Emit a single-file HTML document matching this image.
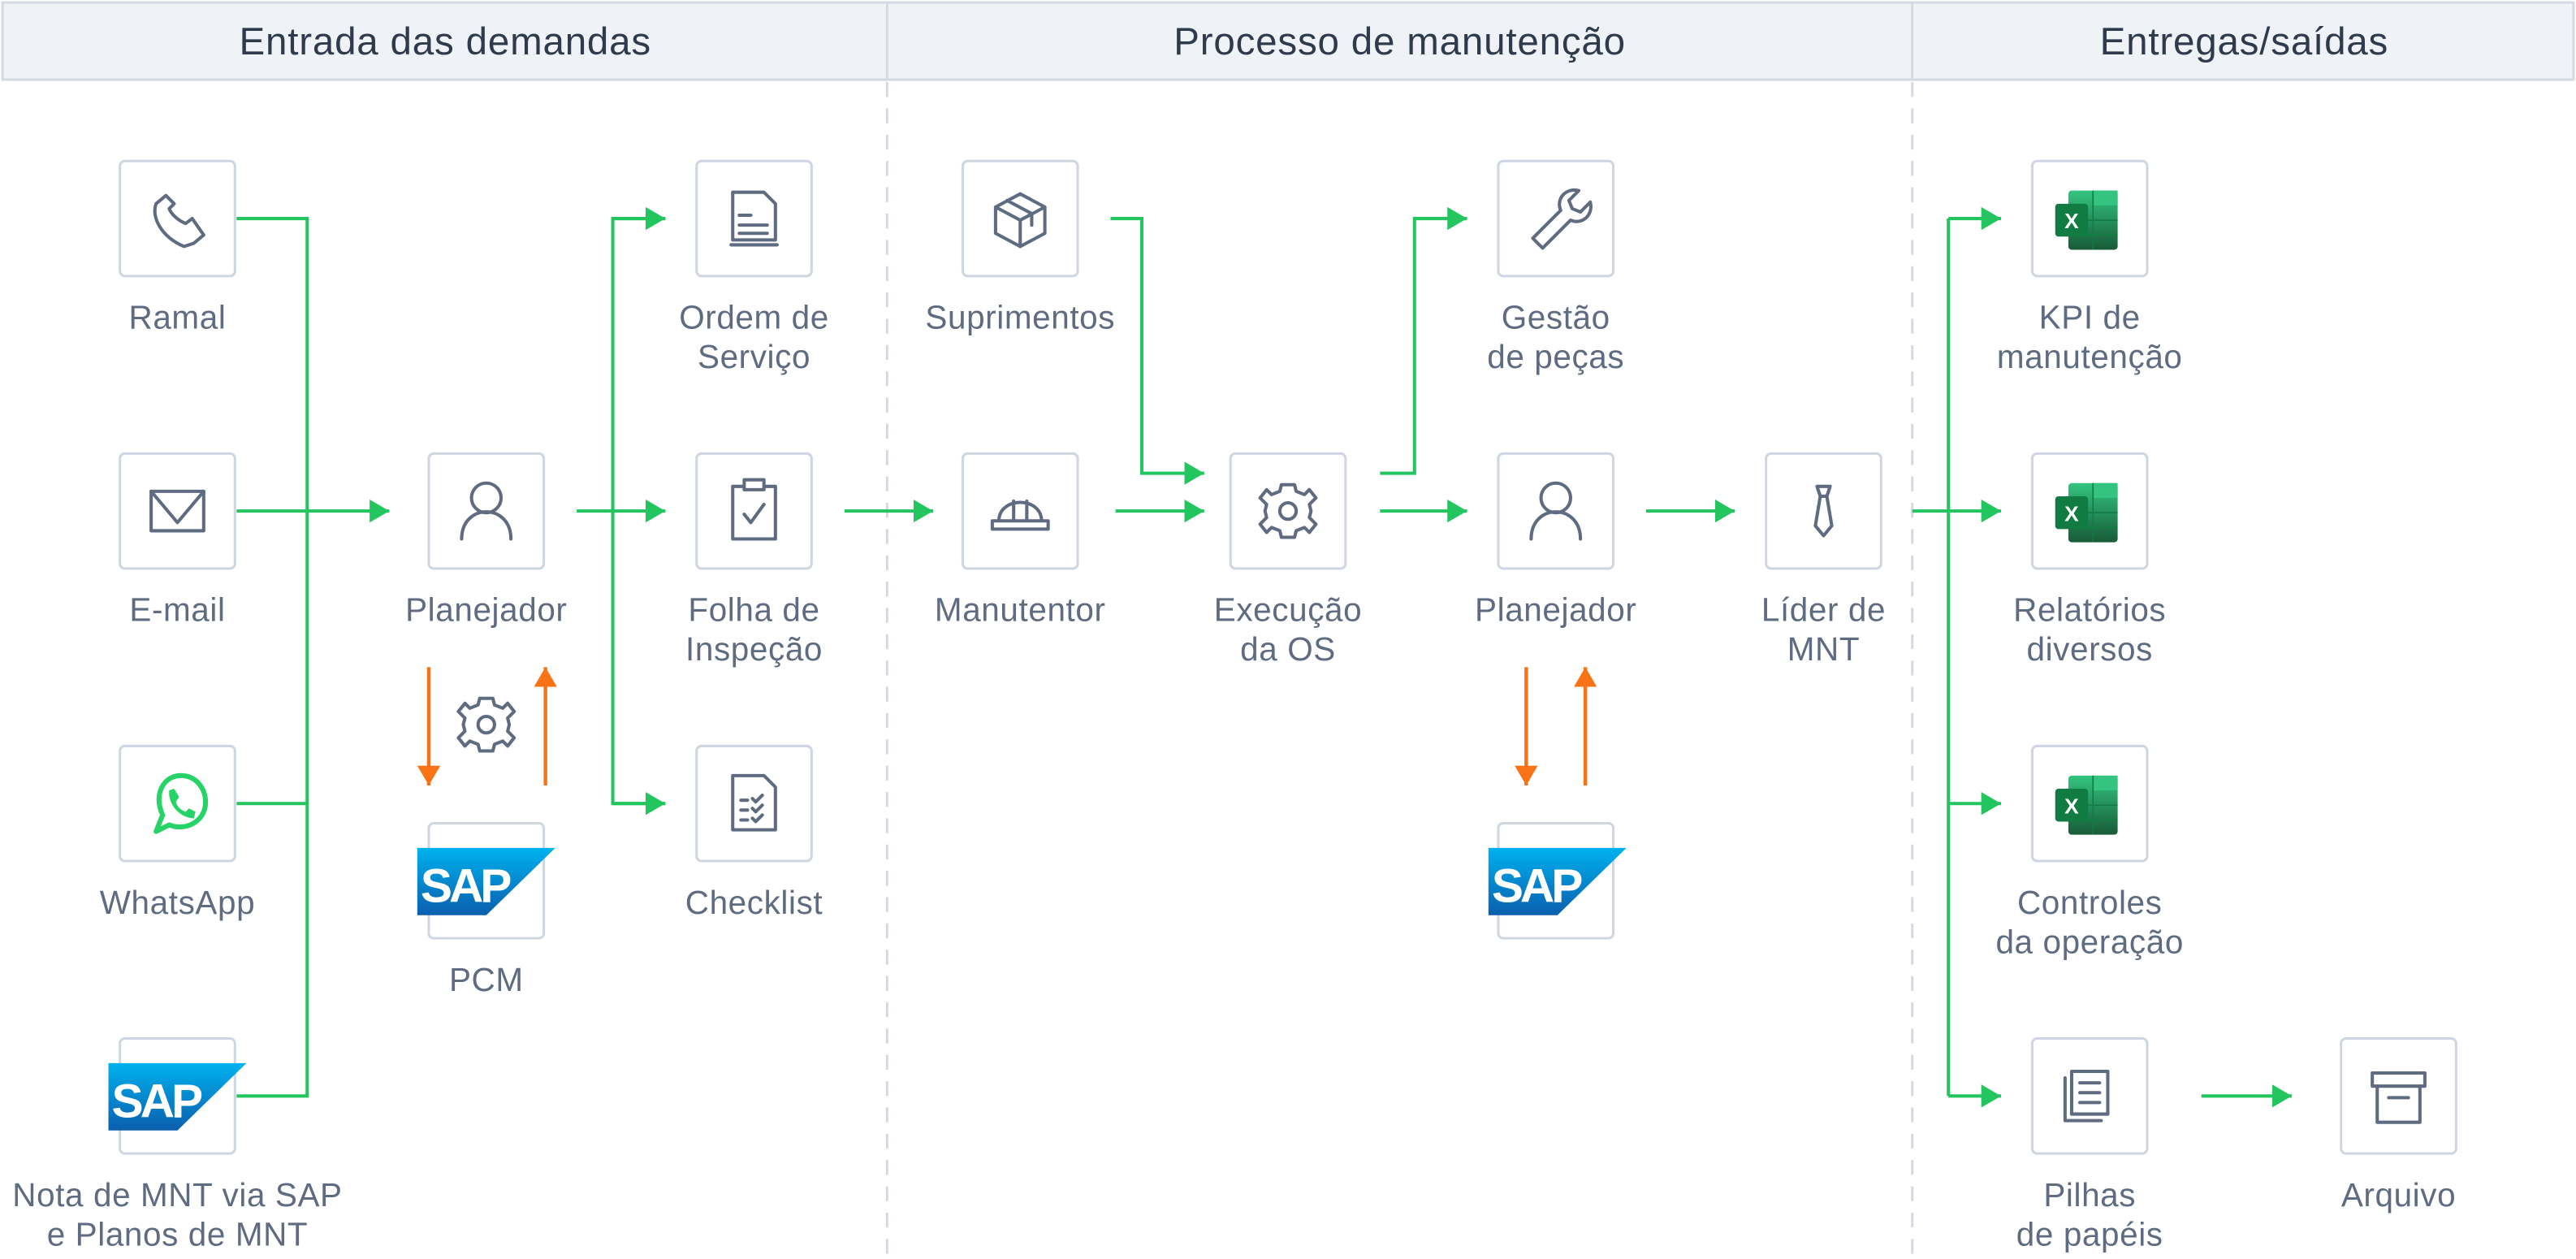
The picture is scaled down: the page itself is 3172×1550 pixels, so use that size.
<!DOCTYPE html>
<html><head><meta charset="utf-8"><style>
html,body{margin:0;padding:0;background:#fff;}
svg{display:block;}
text{font-family:"Liberation Sans",sans-serif;}
</style></head><body>
<svg width="3172" height="1550" viewBox="0 0 1568 766.2" xmlns="http://www.w3.org/2000/svg">
<defs>
<linearGradient id="sapg" x1="0" y1="0" x2="0" y2="1"><stop offset="0" stop-color="#00b2ef"/><stop offset="1" stop-color="#0a5fae"/></linearGradient>
<linearGradient id="xl" x1="0" y1="0" x2="0" y2="1"><stop offset="0" stop-color="#33c481"/><stop offset="1" stop-color="#185c37"/></linearGradient>
<marker id="ag" markerWidth="12" markerHeight="14" refX="12" refY="7" orient="auto" markerUnits="userSpaceOnUse"><path d="M0,0 L12,7 L0,14 Z" fill="#22c55e"/></marker>
<marker id="ao" markerWidth="12" markerHeight="14" refX="12" refY="7" orient="auto" markerUnits="userSpaceOnUse"><path d="M0,0 L12,7 L0,14 Z" fill="#f97316"/></marker>
</defs>
<rect x="1.5" y="1.5" width="1565" height="47" fill="#eff3f8" stroke="#d3dae4" stroke-width="1.5"/>
<line x1="540" y1="1.5" x2="540" y2="48.5" stroke="#d3dae4" stroke-width="1.5"/>
<line x1="1164" y1="1.5" x2="1164" y2="48.5" stroke="#d3dae4" stroke-width="1.5"/>
<g fill="#2f3a4c" font-size="23.5" text-anchor="middle" letter-spacing="0.4">
<text x="271" y="33">Entrada das demandas</text>
<text x="852" y="33">Processo de manutenção</text>
<text x="1366" y="33">Entregas/saídas</text>
</g>
<g stroke="#d3dae4" stroke-width="1.5" stroke-dasharray="9 7">
<line x1="540" y1="50" x2="540" y2="766"/><line x1="1164" y1="50" x2="1164" y2="766"/>
</g>
<g fill="#fff" stroke="#cfd6e1" stroke-width="1.5">
<rect x="73" y="98" width="70" height="70" rx="3"/>
<rect x="73" y="276" width="70" height="70" rx="3"/>
<rect x="73" y="454" width="70" height="70" rx="3"/>
<rect x="73" y="632" width="70" height="70" rx="3"/>
<rect x="261" y="276" width="70" height="70" rx="3"/>
<rect x="261" y="501" width="70" height="70" rx="3"/>
<rect x="424" y="98" width="70" height="70" rx="3"/>
<rect x="424" y="276" width="70" height="70" rx="3"/>
<rect x="424" y="454" width="70" height="70" rx="3"/>
<rect x="586" y="98" width="70" height="70" rx="3"/>
<rect x="586" y="276" width="70" height="70" rx="3"/>
<rect x="749" y="276" width="70" height="70" rx="3"/>
<rect x="912" y="98" width="70" height="70" rx="3"/>
<rect x="912" y="276" width="70" height="70" rx="3"/>
<rect x="912" y="501" width="70" height="70" rx="3"/>
<rect x="1075" y="276" width="70" height="70" rx="3"/>
<rect x="1237" y="98" width="70" height="70" rx="3"/>
<rect x="1237" y="276" width="70" height="70" rx="3"/>
<rect x="1237" y="454" width="70" height="70" rx="3"/>
<rect x="1237" y="632" width="70" height="70" rx="3"/>
<rect x="1425" y="632" width="70" height="70" rx="3"/>
</g>
<g fill="#5f6b80" font-size="20" text-anchor="middle" letter-spacing="0.3">
<text x="108" y="200">Ramal</text>
<text x="108" y="378">E-mail</text>
<text x="108" y="556">WhatsApp</text>
<text x="108" y="734">Nota de MNT via SAP</text>
<text x="108" y="758">e Planos de MNT</text>
<text x="296" y="378">Planejador</text>
<text x="296" y="603">PCM</text>
<text x="459" y="200">Ordem de</text><text x="459" y="224">Serviço</text>
<text x="459" y="378">Folha de</text><text x="459" y="402">Inspeção</text>
<text x="459" y="556">Checklist</text>
<text x="621" y="200">Suprimentos</text>
<text x="621" y="378">Manutentor</text>
<text x="784" y="378">Execução</text><text x="784" y="402">da OS</text>
<text x="947" y="200">Gestão</text><text x="947" y="224">de peças</text>
<text x="947" y="378">Planejador</text>
<text x="1110" y="378">Líder de</text><text x="1110" y="402">MNT</text>
<text x="1272" y="200">KPI de</text><text x="1272" y="224">manutenção</text>
<text x="1272" y="378">Relatórios</text><text x="1272" y="402">diversos</text>
<text x="1272" y="556">Controles</text><text x="1272" y="580">da operação</text>
<text x="1272" y="734">Pilhas</text><text x="1272" y="758">de papéis</text>
<text x="1460" y="734">Arquivo</text>
</g>
<g stroke="#22c55e" stroke-width="2" fill="none">
<polyline points="144,133 187,133 187,667 144,667"/>
<line x1="144" y1="489" x2="187" y2="489"/>
<line x1="144" y1="311" x2="237" y2="311" marker-end="url(#ag)"/>
<line x1="351" y1="311" x2="405" y2="311" marker-end="url(#ag)"/>
<polyline points="405,133 373,133 373,489 405,489"/>
<line x1="373" y1="133" x2="405" y2="133" marker-end="url(#ag)"/>
<line x1="373" y1="489" x2="405" y2="489" marker-end="url(#ag)"/>
<line x1="514" y1="311" x2="568" y2="311" marker-end="url(#ag)"/>
<polyline points="676,133 695,133 695,288 733,288" marker-end="url(#ag)"/>
<line x1="679" y1="311" x2="733" y2="311" marker-end="url(#ag)"/>
<polyline points="840,288 861,288 861,133 893,133" marker-end="url(#ag)"/>
<line x1="840" y1="311" x2="893" y2="311" marker-end="url(#ag)"/>
<line x1="1002" y1="311" x2="1056" y2="311" marker-end="url(#ag)"/>
<line x1="1164" y1="311" x2="1218" y2="311" marker-end="url(#ag)"/>
<line x1="1186" y1="133" x2="1186" y2="667"/>
<line x1="1186" y1="133" x2="1218" y2="133" marker-end="url(#ag)"/>
<line x1="1186" y1="489" x2="1218" y2="489" marker-end="url(#ag)"/>
<line x1="1186" y1="667" x2="1218" y2="667" marker-end="url(#ag)"/>
<line x1="1340" y1="667" x2="1395" y2="667" marker-end="url(#ag)"/>
</g>
<g stroke="#f97316" stroke-width="2.2">
<line x1="261" y1="406" x2="261" y2="478" marker-end="url(#ao)"/>
<line x1="332" y1="478" x2="332" y2="406" marker-end="url(#ao)"/>
<line x1="929" y1="406" x2="929" y2="478" marker-end="url(#ao)"/>
<line x1="965" y1="478" x2="965" y2="406" marker-end="url(#ao)"/>
</g>
<g fill="none" stroke="#5f6b80" stroke-width="2" stroke-linejoin="round" stroke-linecap="round">
<path d="M101,119 L95,124 C92,132 98,144 112,150 L118,148 L124,143 L117,133 L113,136 C108,134 104,130 103,127 L106,124 Z"/>
<rect x="92" y="299" width="32" height="24"/><path d="M92,299 L108,318 L124,299"/>
<circle cx="296" cy="303" r="9"/><path d="M281,328 C281,306 311,306 311,328"/>
<circle cx="947" cy="303" r="9"/><path d="M932,328 C932,306 962,306 962,328"/>
<g transform="translate(296,441)"><path d="M-4,-16 L4,-16 L5,-12 L10,-10 L13,-13 L17,-8 L13,-4 L14,0 L13,4 L17,8 L13,13 L10,10 L5,12 L4,16 L-4,16 L-5,12 L-10,10 L-13,13 L-17,8 L-13,4 L-14,0 L-13,-4 L-17,-8 L-13,-13 L-10,-10 L-5,-12 Z"/><circle r="5"/></g>
<g transform="translate(784,311)"><path d="M-4,-16 L4,-16 L5,-12 L10,-10 L13,-13 L17,-8 L13,-4 L14,0 L13,4 L17,8 L13,13 L10,10 L5,12 L4,16 L-4,16 L-5,12 L-10,10 L-13,13 L-17,8 L-13,4 L-14,0 L-13,-4 L-17,-8 L-13,-13 L-10,-10 L-5,-12 Z"/><circle r="5"/></g>
<path d="M446,117 L465,117 L472,124 L472,146 L446,146 Z"/><path d="M450,131 L457,131 M450,137 L467,137 M450,142 L467,142 M445,149 L473,149"/>
<path d="M446,296 L472,296 L472,328 L446,328 Z"/><rect x="453" y="292" width="12" height="6" fill="#fff"/><path d="M453,313 L457,318 L465,307"/>
<path d="M446,472 L465,472 L472,479 L472,505 L446,505 Z"/><path d="M451,487 L455,487 M451,493 L455,493 M451,499 L455,499 M458,486 l2,2 l4,-4 M458,492 l2,2 l4,-4 M458,498 l2,2 l4,-4"/>
<path d="M621,118 L636,126 L636,142 L621,150 L606,142 L606,126 Z M606,126 L621,134 L636,126 M621,134 L621,150 M613,122 L628,130 L628,137"/>
<path d="M604,322 L638,322 L638,317 L604,317 Z M608,317 C608,302 634,302 634,317 M617,305 L617,317 M625,305 L625,317"/>
<path d="M933,145 L950,128 C947,121 953,114 961,116 L955,122 L957,127 L962,129 L968,123 C970,131 963,137 956,134 L939,151 Z"/>
<path d="M1106,296 L1114,296 L1112,302 L1108,302 Z M1108,302 L1105,320 L1110,326 L1115,320 L1112,302"/>
<path d="M1257,656 L1257,682 L1279,682 M1261,652 L1261,678 L1283,678 L1283,652 Z M1266,659 L1278,659 M1266,665 L1278,665 M1266,671 L1278,671"/>
<rect x="1444" y="653" width="32" height="8"/><path d="M1447,661 L1447,683 L1473,683 L1473,661 M1454,668 L1466,668"/>
</g>
<g fill="none" stroke="#25d366" stroke-width="3">
<path d="M95,506 L99,496 C93,483 100,472 110,472 C120,472 126,481 125,490 C124,500 113,506 103,502 Z" stroke-linejoin="round"/>
</g>
<path d="M103,481 L106,480 L109,485 L107,488 C108,491 110,493 113,494 L115,492 L119,494 L118,498 C110,498 102,490 103,481 Z" fill="#25d366"/>
<g>
<g transform="translate(1251,116)"><rect x="8" y="0" width="30" height="36" rx="2" fill="url(#xl)"/><path d="M23,0 L38,0 L38,9 L23,9 Z" fill="#33c481"/><path d="M8,18 L38,18 M8,27 L38,27 M23,0 L23,36" stroke="#107c41" stroke-width="0.8"/><rect x="0" y="8" width="20" height="20" rx="2" fill="#107c41"/><text x="10" y="23" font-size="13" font-weight="bold" fill="#fff" text-anchor="middle">X</text></g>
<g transform="translate(1251,294)"><rect x="8" y="0" width="30" height="36" rx="2" fill="url(#xl)"/><path d="M23,0 L38,0 L38,9 L23,9 Z" fill="#33c481"/><path d="M8,18 L38,18 M8,27 L38,27 M23,0 L23,36" stroke="#107c41" stroke-width="0.8"/><rect x="0" y="8" width="20" height="20" rx="2" fill="#107c41"/><text x="10" y="23" font-size="13" font-weight="bold" fill="#fff" text-anchor="middle">X</text></g>
<g transform="translate(1251,472)"><rect x="8" y="0" width="30" height="36" rx="2" fill="url(#xl)"/><path d="M23,0 L38,0 L38,9 L23,9 Z" fill="#33c481"/><path d="M8,18 L38,18 M8,27 L38,27 M23,0 L23,36" stroke="#107c41" stroke-width="0.8"/><rect x="0" y="8" width="20" height="20" rx="2" fill="#107c41"/><text x="10" y="23" font-size="13" font-weight="bold" fill="#fff" text-anchor="middle">X</text></g>
</g>
<g transform="translate(66,647)"><path d="M0,0 L84,0 L42,41 L0,41 Z" fill="url(#sapg)"/><text x="2" y="33" font-size="29" font-weight="bold" fill="#fff" letter-spacing="-2">SAP</text></g>
<g transform="translate(254,516)"><path d="M0,0 L84,0 L42,41 L0,41 Z" fill="url(#sapg)"/><text x="2" y="33" font-size="29" font-weight="bold" fill="#fff" letter-spacing="-2">SAP</text></g>
<g transform="translate(906,516)"><path d="M0,0 L84,0 L42,41 L0,41 Z" fill="url(#sapg)"/><text x="2" y="33" font-size="29" font-weight="bold" fill="#fff" letter-spacing="-2">SAP</text></g>
</svg>
</body></html>
